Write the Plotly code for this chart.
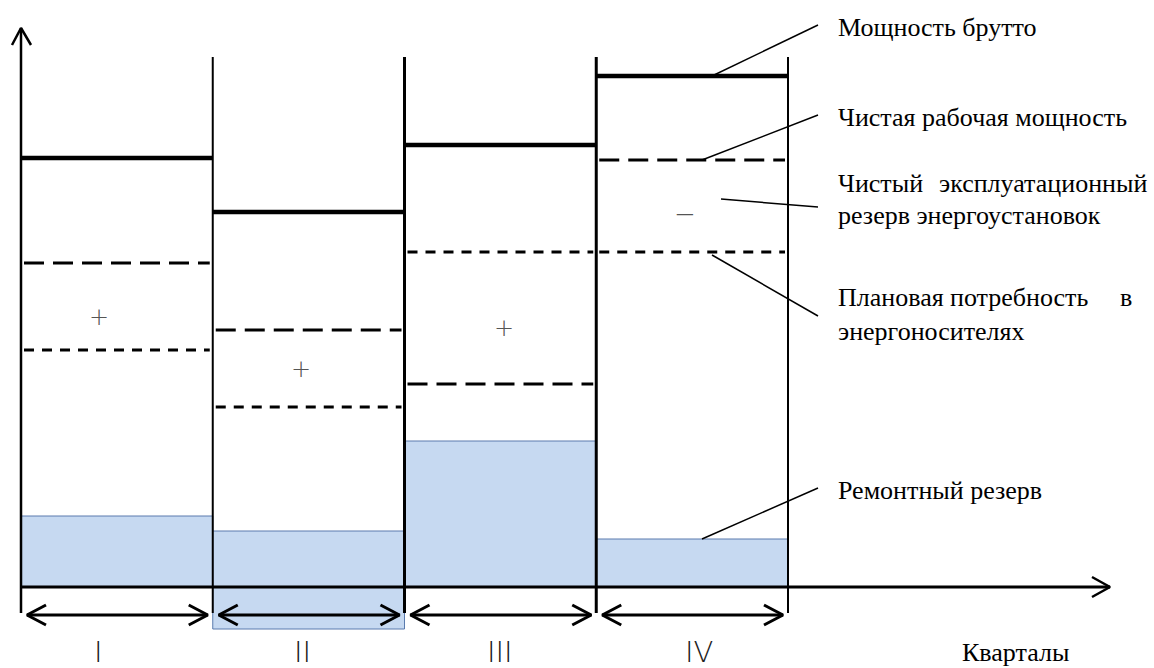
import plotly.graph_objects as go

# ---------------- data (arbitrary power units, quarters on x) ----------------
quarters = ["I", "II", "III", "IV"]
gross_power = [85.8, 75.0, 88.4, 102.2]          # Мощность брутто
net_working_power = [64.8, 51.4, 40.6, 85.4]     # Чистая рабочая мощность
planned_demand = [47.4, 36.0, 67.0, 67.0]        # Плановая потребность
repair_top = [14.2, 11.2, 29.2, 9.6]             # Ремонтный резерв (верх)
repair_base = [0.0, -8.4, 0.0, 0.0]              # Ремонтный резерв (низ)
reserve_signs = ["+", "+", "+", "−"]

# ---------------- canvas mapping (layout constants) ----------------
W, H = 1154, 668
ORIGIN_PX_X, ORIGIN_PX_Y = 21, 587
PX_PER_Q, PX_PER_U = 191.75, 5.0


def X(px):
    return (px - ORIGIN_PX_X) / PX_PER_Q


def Y(py):
    return (ORIGIN_PX_Y - py) / PX_PER_U


def dxp(p):
    return p / PX_PER_Q


def dyp(p):
    return p / PX_PER_U


fig = go.Figure()

n = len(quarters)

# repair reserve rectangles
fig.add_trace(go.Bar(
    x=[i + 0.5 for i in range(n)],
    y=[t - b for t, b in zip(repair_top, repair_base)],
    base=repair_base,
    width=[1.0] * n,
    marker=dict(color="#C6D9F1", line=dict(color="#5A7BAE", width=1)),
    hoverinfo="skip",
))


def seg_trace(xs, ys, width, dash="solid", color="black"):
    fig.add_trace(go.Scatter(x=xs, y=ys, mode="lines",
                             line=dict(color=color, width=width, dash=dash),
                             hoverinfo="skip"))


# quarter boundary lines
top_v = Y(57)
tick_bottom = Y(613)
bw = [2, 3, 3, 2]
for i in range(1, n + 1):
    seg_trace([i, i], [top_v, tick_bottom], bw[i - 1])

# y axis with open arrow head
yaxis_top = Y(28)
seg_trace([0, 0], [tick_bottom, yaxis_top], 2.5)
seg_trace([-dxp(9), 0, dxp(10)], [yaxis_top - dyp(17), yaxis_top, yaxis_top - dyp(17)], 2.5)

# x axis with open arrow head
xaxis_end = X(1110)
seg_trace([0, xaxis_end], [0, 0], 3)
seg_trace([xaxis_end - dxp(18), xaxis_end, xaxis_end - dxp(18)], [dyp(10), 0, -dyp(10)], 2.5)

# gross power (thick solid)
gx, gy = [], []
for i, v in enumerate(gross_power):
    gx += [i, i + 1, None]
    gy += [v, v, None]
seg_trace(gx, gy, 4.5)

# net working power (long dash)
nx, ny = [], []
for i, v in enumerate(net_working_power):
    nx += [i + dxp(3), i + 1 - dxp(3), None]
    ny += [v, v, None]
seg_trace(nx, ny, 3, dash="20px,9px")

# planned demand (short dash)
px_, py_ = [], []
for i, v in enumerate(planned_demand):
    px_ += [i + dxp(3), i + 1 - dxp(3), None]
    py_ += [v, v, None]
seg_trace(px_, py_, 3, dash="10px,8px")

# double-headed quarter arrows
arrow_y = Y(615)
ax, ay = [], []
for i in range(n):
    a0, a1 = i + dxp(6), i + 1 - dxp(5)
    ax += [a0, a1, None,
           a0 + dxp(19), a0, a0 + dxp(19), None,
           a1 - dxp(19), a1, a1 - dxp(19), None]
    ay += [arrow_y, arrow_y, None,
           arrow_y + dyp(10), arrow_y, arrow_y - dyp(10), None,
           arrow_y + dyp(10), arrow_y, arrow_y - dyp(10), None]
seg_trace(ax, ay, 3)

# leader lines from chart elements to labels
leaders = [
    ((X(712), gross_power[3]), (X(818), Y(25))),
    ((X(702), net_working_power[3]), (X(818), Y(115))),
    ((X(721), Y(199)), (X(818), Y(207))),
    ((X(712), Y(255)), (X(818), Y(316))),
    ((X(702), repair_top[3]), (X(818), Y(488))),
]
lx, ly = [], []
for (x0, y0), (x1, y1) in leaders:
    lx += [x0, x1, None]
    ly += [y0, y1, None]
seg_trace(lx, ly, 1.5)

# ---------------- text ----------------
serif = "Liberation Serif, Times New Roman, serif"
ann = []


def text(px, py, s, size=26, anchor="left", family=serif, color="black",
         valign="middle", weight=None, pad=1):
    f = dict(family=family, size=size, color=color)
    if weight:
        f["weight"] = weight
    ann.append(dict(x=X(px), y=Y(py), text=s, showarrow=False, xanchor=anchor,
                    yanchor=valign, font=f, borderpad=pad))


LX = 836
text(LX, 27, "Мощность брутто")
text(LX, 117, "Чистая рабочая мощность")
text(LX, 183, "Чистый")
text(1149, 183, "эксплуатационный", anchor="right")
text(LX, 215, "резерв энергоустановок")
text(LX, 297, "Плановая")
text(1019, 297, "потребность", anchor="center")
text(1134, 297, "в", anchor="right")
text(LX, 331, "энергоносителях")
text(LX, 490, "Ремонтный резерв")
text(1015, 652, "Кварталы", anchor="center", pad=0)

# reserve signs
sign_pos = [(99, 317), (301, 369), (504, 328), (685, 214)]
sign_size = [24, 24, 24, 26]
for (sx, sy), s, sz in zip(sign_pos, reserve_signs, sign_size):
    text(sx, sy, s, size=sz, anchor="center", family="DejaVu Sans", color="#555555", weight=200)

# quarter numerals
num_x = [98, 302, 500, 699]
for qx, q in zip(num_x, quarters):
    text(qx, 652, q, size=29, anchor="center", family="DejaVu Sans", color="#222222",
         weight=200, pad=0)

fig.update_layout(
    width=W, height=H, autosize=False,
    margin=dict(l=0, r=0, t=0, b=0),
    paper_bgcolor="white", plot_bgcolor="white",
    showlegend=False, hovermode=False,
    barmode="overlay",
    xaxis=dict(range=[X(0), X(W)], visible=False, fixedrange=True),
    yaxis=dict(range=[Y(H), Y(0)], visible=False, fixedrange=True),
    annotations=ann,
)

fig.write_html("out.html", config={"displayModeBar": False},
               post_script="document.body.style.margin='0';")
